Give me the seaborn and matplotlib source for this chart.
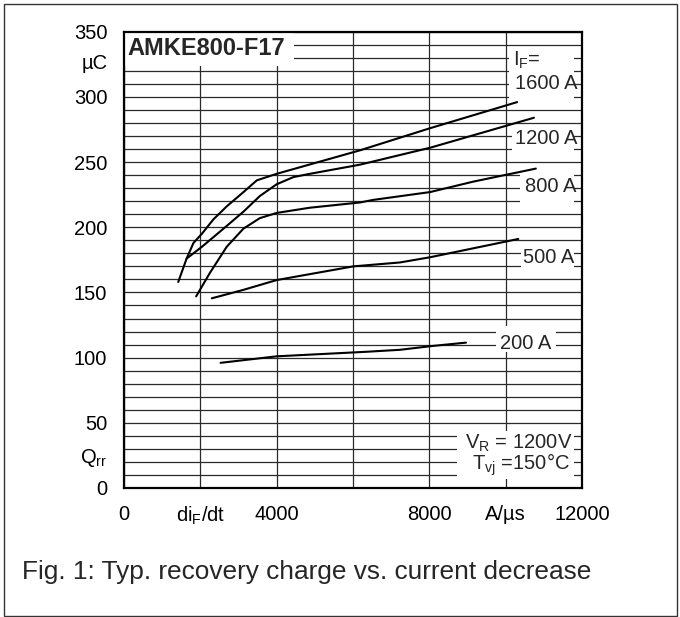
import numpy as np
import pandas as pd
import matplotlib
matplotlib.use("Agg")
import matplotlib.pyplot as plt
import seaborn as sns
from matplotlib.ticker import MultipleLocator
from matplotlib.patches import Rectangle

# ---- data ----
didt_1600 = [1420, 1640, 1820, 2040, 2340, 2690, 3130, 3480, 4000, 6180, 8020, 10300]
qrr_1600 = [158, 176, 188, 195, 206, 216, 227, 236, 241, 259, 276, 296]
didt_1200 = [1640, 2040, 2690, 3130, 3560, 4000, 4440, 4870, 6180, 8020, 10740]
qrr_1200 = [176, 185, 201, 212, 224, 233, 238.5, 241, 248, 261, 284]
didt_800 = [1890, 2250, 2690, 3130, 3560, 4000, 4870, 6180, 6530, 8020, 9150, 10790]
qrr_800 = [147, 165, 185, 199, 207, 211, 215, 219, 221, 227, 235, 245]
didt_500 = [2300, 3130, 4000, 6010, 7230, 8020, 10330]
qrr_500 = [145.5, 152, 159.5, 170, 173, 177, 191]
didt_200 = [2530, 4000, 6360, 7230, 8100, 8960]
qrr_200 = [96, 101, 104.5, 106, 109, 111.5]
current_labels = ["1600 A", "1200 A", "800 A", "500 A", "200 A"]

x_ticks = [0, 2000, 4000, 8000, 10000, 12000]
x_tick_labels = ["0", "di$_{F}$/dt", "4000", "8000", "A/µs", "12000"]
y_ticks = [0, 25, 50, 100, 150, 200, 250, 300, 327, 350]
y_tick_labels = ["0", "Q$_{rr}$", "50", "100", "150", "200", "250", "300", "µC", "350"]

frames = []
for lab, xs, ys in zip(current_labels,
                       [didt_1600, didt_1200, didt_800, didt_500, didt_200],
                       [qrr_1600, qrr_1200, qrr_800, qrr_500, qrr_200]):
    frames.append(pd.DataFrame({"didt": xs, "qrr": ys, "IF": lab}))
df = pd.concat(frames, ignore_index=True)

# ---- style ----
sns.set_style("white")
plt.rcParams["font.family"] = ["Liberation Sans", "DejaVu Sans"]
plt.rcParams["mathtext.default"] = "regular"

fig = plt.figure(figsize=(6.8, 6.17), dpi=100)
ax = fig.add_axes([0.1824, 0.2091, 0.6735, 0.7395])

sns.lineplot(data=df, x="didt", y="qrr", hue="IF", palette=["black"] * 5,
             estimator=None, sort=False, legend=False, lw=1.5, ax=ax, zorder=2.2)

ax.set_xlim(0, 12000)
ax.set_ylim(0, 350)
ax.set_xlabel("")
ax.set_ylabel("")

ax.set_xticks(x_ticks)
ax.set_xticklabels(x_tick_labels)
ax.set_yticks(y_ticks)
ax.set_yticklabels(y_tick_labels)
ax.tick_params(axis="both", which="both", length=0, labelsize=14.5, pad=12,
               colors="black")

ax.xaxis.set_minor_locator(MultipleLocator(2000))
ax.yaxis.set_minor_locator(MultipleLocator(10))
ax.xaxis.remove_overlapping_locs = False
ax.yaxis.remove_overlapping_locs = False
ax.grid(False, which="major")
ax.grid(True, which="minor", color="#2a2a2a", lw=0.9)
ax.set_axisbelow(True)

for s in ax.spines.values():
    s.set_visible(True)
    s.set_color("black")
    s.set_linewidth(1.6)

# white label boxes
boxes = [
    (0, 324, 4450, 26),
    (10090, 295, 1710, 41),
    (10170, 255, 1630, 21),
    (10375, 216, 1425, 28),
    (10400, 165, 1400, 21),
    (9750, 104, 1570, 20),
    (8725, 7, 3075, 37),
]
for (x0, y0, w, h) in boxes:
    ax.add_patch(Rectangle((x0, y0), w, h, facecolor="white", edgecolor="none",
                           zorder=1.5))

ax.text(100, 337, "AMKE800-F17", fontsize=17, fontweight="bold", ha="left",
        va="center", zorder=3)
ax.text(10200, 328, "I$_{F}$=", fontsize=14.5, ha="left", va="center", zorder=3)
label_pos = [(10250, 310), (10250, 268), (10500, 231.6), (10450, 177), (9850, 110.8)]
for lab, (x, y) in zip(current_labels, label_pos):
    ax.text(x, y, lab, fontsize=14.5, ha="left", va="center", zorder=3)
ax.text(11740, 34.5, "V$_{R}$ = 1200V", fontsize=14.5, ha="right", va="center", zorder=3)
ax.text(11690, 17.6, "T$_{vj}$ =150°C", fontsize=14.5, ha="right", va="center", zorder=3)

fig.text(21.7 / 680, 1 - 572 / 617, "Fig. 1: Typ. recovery charge vs. current decrease",
         fontsize=18.9, ha="left", va="center")

fig.patches.append(Rectangle((3.5 / 680, 1 - 616 / 617), (677 - 3.5) / 680, (616 - 4) / 617,
                             transform=fig.transFigure, fill=False, edgecolor="#333333",
                             lw=1))

fig.savefig("out.png", dpi=100)
